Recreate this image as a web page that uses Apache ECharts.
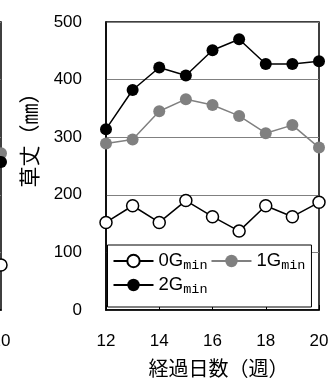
<!DOCTYPE html>
<html>
<head>
<meta charset="utf-8">
<script src="https://cdn.jsdelivr.net/npm/echarts@6/dist/echarts.min.js"></script>
<style>html,body{margin:0;padding:0;background:#fff}#c{width:329px;height:380px}</style>
</head>
<body>
<div id="c"></div>
<script>
// Main panel data (week 12..20)
var weeks = [12, 13, 14, 15, 16, 17, 18, 19, 20];
var g0 = [152, 181, 152, 190, 162, 137, 181, 162, 187];
var g1 = [289, 296, 345, 366, 356, 337, 307, 321, 282];
var g2 = [314, 382, 421, 407, 451, 470, 427, 427, 432];
var seriesNames = ['0G', '1G', '2G'];
var yTicks = [0, 100, 200, 300, 400, 500];
var xName = '経過日数（週）';
var yName = '草丈（㎜）';
// Partial neighbouring panel (only its last week is visible)
var prevWeeks = [20];
var prevG0 = [78];
var prevG1 = [272];
var prevG2 = [257];

var GRAY = '#808080';
var chart = echarts.init(document.getElementById('c'), null, {renderer: 'canvas'});

function pts(xs, ys) { return xs.map(function (x, i) { return [x, ys[i]]; }); }

function styles(name) {
  if (name === '0G') return {color: '#000', itemStyle: {color: '#fff', borderColor: '#000', borderWidth: 1.5}, lineStyle: {color: '#000', width: 1.5}};
  if (name === '1G') return {color: GRAY, itemStyle: {color: GRAY, borderColor: GRAY, borderWidth: 0}, lineStyle: {color: GRAY, width: 1.5}};
  return {color: '#000', itemStyle: {color: '#000', borderColor: '#000', borderWidth: 0}, lineStyle: {color: '#000', width: 1.5}};
}

function mk(name, data, gi, showInLegend) {
  var s = styles(name);
  return {
    name: showInLegend ? name : name + '_prev',
    type: 'line',
    xAxisIndex: gi, yAxisIndex: gi,
    data: data,
    symbol: 'circle',
    symbolSize: 12,
    color: s.color,
    itemStyle: s.itemStyle,
    lineStyle: s.lineStyle,
    emphasis: {disabled: true},
    animation: false,
    z: name === '0G' ? 3 : 2
  };
}

var option = {
  animation: false,
  grid: [
    {left: 106, top: 22, width: 213, height: 288, show: true, borderColor: '#000', borderWidth: 1.5, outerBoundsMode: 'none', containLabel: false},
    {left: -212, top: 22, width: 213, height: 288, show: true, borderColor: '#000', borderWidth: 1.5, outerBoundsMode: 'none', containLabel: false}
  ],
  graphic: [
    {
      type: 'text', x: 29, y: 135, rotation: Math.PI / 2, silent: true,
      style: {text: yName, font: '21px "Noto Sans CJK JP"', fill: '#000', align: 'center', verticalAlign: 'middle'}
    }
  ],
  xAxis: [
    {
      type: 'value', gridIndex: 0, min: weeks[0], max: weeks[weeks.length - 1], interval: 2,
      name: xName, nameLocation: 'middle', nameGap: 48,
      nameTextStyle: {fontFamily: 'Noto Sans CJK JP', fontSize: 20, color: '#000', padding: [0, 0, 0, 12]},
      axisLine: {show: true, lineStyle: {color: '#000', width: 1.5}},
      axisTick: {show: true, inside: true, length: 5, lineStyle: {color: '#000', width: 1}},
      axisLabel: {fontFamily: 'Liberation Sans, Arial', fontSize: 17, color: '#000', margin: 23},
      splitLine: {show: false}
    },
    {
      type: 'value', gridIndex: 1, min: 12, max: prevWeeks[0], interval: 2,
      axisLine: {show: true, lineStyle: {color: '#000', width: 1.5}},
      axisTick: {show: false},
      axisLabel: {fontFamily: 'Liberation Sans, Arial', fontSize: 17, color: '#000', margin: 23},
      splitLine: {show: false}
    }
  ],
  yAxis: [
    {
      type: 'value', gridIndex: 0, min: yTicks[0], max: yTicks[yTicks.length - 1], interval: 100,
      axisLine: {show: true, lineStyle: {color: '#000', width: 1.5}},
      axisTick: {show: false},
      axisLabel: {fontFamily: 'Liberation Sans, Arial', fontSize: 17, color: '#000', margin: 24},
      splitLine: {show: true, lineStyle: {color: GRAY, width: 1}}
    },
    {
      type: 'value', gridIndex: 1, min: 0, max: 500, interval: 100,
      axisLine: {show: false}, axisTick: {show: false}, axisLabel: {show: false},
      splitLine: {show: true, lineStyle: {color: GRAY, width: 1}}
    }
  ],
  legend: {
    data: seriesNames,
    left: 107.5, top: 245, width: 212,
    orient: 'horizontal',
    itemWidth: 40, itemHeight: 15.5, itemGap: 3,
    padding: [6, 6, 11, 5],
    backgroundColor: '#fff', borderColor: '#000', borderWidth: 1,
    selectedMode: false,
    formatter: function (n) { return '{a|' + n + '}{b|min}'; },
    textStyle: {
      color: '#000',
      rich: {
        a: {fontFamily: 'Liberation Sans, Arial', fontSize: 18.5, lineHeight: 22, verticalAlign: 'bottom', padding: [0, 0, 2, 0], color: '#000'},
        b: {fontFamily: 'Liberation Mono, DejaVu Sans Mono, monospace', fontSize: 13.5, lineHeight: 14, verticalAlign: 'bottom', color: '#000'}
      }
    }
  },
  series: [
    mk('0G', pts(weeks, g0), 0, true),
    mk('1G', pts(weeks, g1), 0, true),
    mk('2G', pts(weeks, g2), 0, true),
    mk('0G', pts(prevWeeks, prevG0), 1, false),
    mk('1G', pts(prevWeeks, prevG1), 1, false),
    mk('2G', pts(prevWeeks, prevG2), 1, false)
  ]
};
chart.setOption(option);
</script>
</body>
</html>
